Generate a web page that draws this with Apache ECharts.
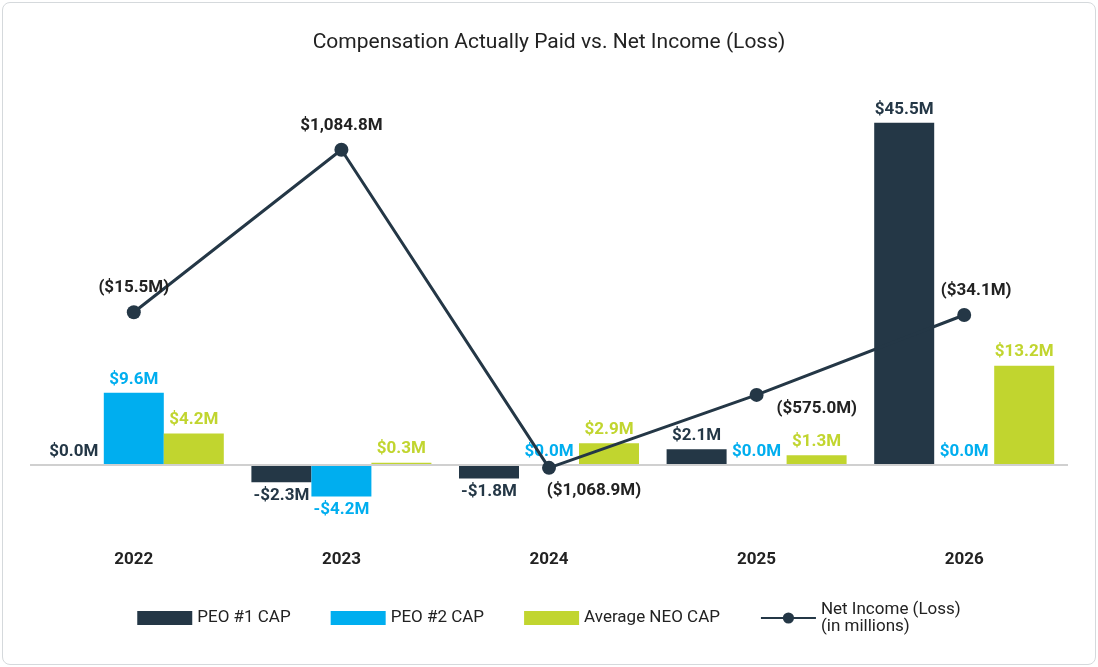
<!DOCTYPE html>
<html>
<head>
<meta charset="utf-8">
<script src="https://cdn.jsdelivr.net/npm/echarts@6/dist/echarts.min.js"></script>
<style>
  html, body { margin: 0; padding: 0; background: #fff; }
  #main { position: absolute; left: 2px; top: 2px; width: 1092px; height: 661px;
          border: 1px solid #d5d9dc; border-radius: 8px; }
</style>
</head>
<body>
<div id="main"></div>
<script>
const years = ['2022', '2023', '2024', '2025', '2026'];
const peo1Cap = [0.0, -2.3, -1.8, 2.1, 45.5];
const peo2Cap = [9.6, -4.2, 0.0, 0.0, 0.0];
const neoCap = [4.2, 0.3, 2.9, 1.3, 13.2];
const netIncome = [-15.5, 1084.8, -1068.9, -575.0, -34.1];

const cDark = '#243746';
const cBlue = '#00AEEF';
const cGreen = '#C1D52F';
const font = 'Roboto';

function fmtBar(v) {
    return (v < 0 ? '-$' : '$') + Math.abs(v).toFixed(1) + 'M';
}
function fmtLine(v) {
    let s = '$' + Math.abs(v).toLocaleString('en-US', { minimumFractionDigits: 1, maximumFractionDigits: 1 }) + 'M';
    return v < 0 ? '(' + s + ')' : s;
}

function barSeries(name, data, color) {
    return {
        name: name,
        type: 'bar',
        yAxisIndex: 0,
        barWidth: 60,
        barGap: 0,
        itemStyle: { color: color },
        data: data.map(v => ({
            value: v,
            label: { position: v < 0 ? 'bottom' : 'top' }
        })),
        label: {
            show: true,
            color: color,
            fontSize: 17,
            fontWeight: 'bold',
            formatter: p => fmtBar(p.value)
        }
    };
}

const linePos = ['top', 'top', 'bottom', 'right', 'top'];
const lineOff = [[0, -4], [0, -4], [45, 2], [8, 14], [12, -4]];

let bars = [
    barSeries('PEO #1 CAP', peo1Cap, cDark),
    barSeries('PEO #2 CAP', peo2Cap, cBlue),
    barSeries('Average NEO CAP', neoCap, cGreen)
];
bars[0].markLine = {
    silent: true,
    symbol: 'none',
    label: { show: false },
    lineStyle: { color: '#d0d0d0', type: 'solid', width: 2 },
    data: [{ yAxis: 0 }]
};

var option = {
    textStyle: { fontFamily: font },
    animation: false,
    title: {
        text: 'Compensation Actually Paid vs. Net Income (Loss)',
        left: 'center',
        top: 24,
        textStyle: { fontSize: 21, fontWeight: 'normal', color: '#222', fontFamily: font }
    },
    legend: {
        bottom: 24,
        left: 'center',
        itemGap: 40,
        itemWidth: 55,
        itemHeight: 14,
        textStyle: { fontSize: 17, color: '#222', fontFamily: font },
        data: [
            { name: 'PEO #1 CAP', icon: 'rect' },
            { name: 'PEO #2 CAP', icon: 'rect' },
            { name: 'Average NEO CAP', icon: 'rect' },
            { name: 'Net Income (Loss)\n(in millions)' }
        ]
    },
    grid: { left: 27, right: 27, top: 98, bottom: 153 },
    xAxis: {
        type: 'category',
        data: years,
        axisLine: { show: false },
        axisTick: { show: false },
        axisLabel: { margin: 40, fontSize: 17, fontWeight: 'bold', color: '#222' }
    },
    yAxis: [
        { type: 'value', min: -6.12, max: 48.4, show: false, splitLine: { show: false } },
        { type: 'value', min: -1361, max: 1415, show: false, splitLine: { show: false } }
    ],
    series: bars.concat([{
        name: 'Net Income (Loss)\n(in millions)',
        type: 'line',
        yAxisIndex: 1,
        symbol: 'circle',
        symbolSize: 14,
        lineStyle: { color: cDark, width: 3 },
        itemStyle: { color: cDark },
        z: 5,
        data: netIncome.map((v, i) => ({
            value: v,
            label: { position: linePos[i], offset: lineOff[i] }
        })),
        label: {
            show: true,
            color: '#222',
            fontSize: 17,
            fontWeight: 'bold',
            formatter: p => fmtLine(p.value)
        }
    }])
};

var myChart = echarts.init(document.getElementById('main'));
myChart.setOption(option);
</script>
</body>
</html>
